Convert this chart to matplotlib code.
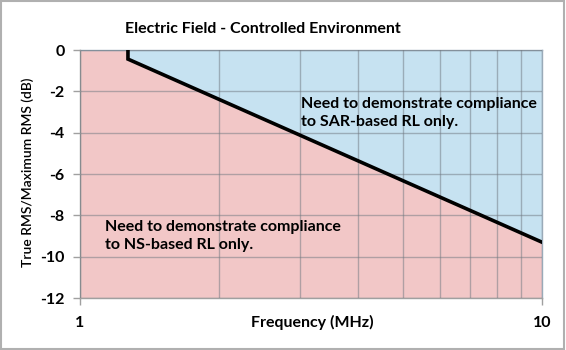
import matplotlib
matplotlib.use('Agg')
import matplotlib.pyplot as plt
from matplotlib.ticker import FixedLocator, NullFormatter

plt.rcParams['font.family'] = ['Lato', 'DejaVu Sans']
plt.rcParams['font.weight'] = 'bold'

# boundary line
freq = [1.27, 1.27, 10.0]
level = [0.0, -0.44, -9.3]

x_lim = [1, 10]
y_lim = [-12, 0]
y_ticks = [0, -2, -4, -6, -8, -10, -12]
x_ticks = [1, 10]
x_minor = [2, 3, 4, 5, 6, 7, 8, 9]

title = 'Electric Field - Controlled Environment'
x_label = 'Frequency (MHz)'
y_label = 'True RMS/Maximum RMS (dB)'
sar_text = 'Need to demonstrate compliance\nto SAR-based RL only.'
ns_text = 'Need to demonstrate compliance\nto NS-based RL only.'

pink = '#F2C7C7'
blue = '#C6E2F1'

fig = plt.figure(figsize=(5.66, 3.5), dpi=100)
ax = fig.add_axes([80 / 566, 52 / 350, 462 / 566, 248 / 350])

ax.set_xscale('log')
ax.set_xlim(x_lim)
ax.set_ylim(y_lim)

# blue above the line, pink below
fx = [x_lim[0]] + freq
fy = [0.0] + level
ax.fill_between(fx, fy, y_lim[0], color=pink, zorder=0, linewidth=0)
ax.fill_between(fx, fy, y_lim[1], color=blue, zorder=0, linewidth=0)
ax.plot(freq, level, color='black', linewidth=2.6, solid_joinstyle='miter', zorder=3)

ax.xaxis.set_major_locator(FixedLocator(x_ticks))
ax.xaxis.set_minor_locator(FixedLocator(x_minor))
ax.xaxis.set_minor_formatter(NullFormatter())
ax.set_xticklabels(['1', '10'])
ax.set_yticks(y_ticks)
ax.set_yticklabels([str(t) for t in y_ticks])

ax.grid(True, which='both', axis='x', color='#707880', alpha=0.5, linewidth=1)
ax.grid(True, which='major', axis='y', color='#707880', alpha=0.5, linewidth=1)
ax.set_axisbelow(False)

ax.tick_params(axis='x', which='major', length=5, width=1, color='#A0A0A0', pad=8,
               labelsize=11.5)
ax.tick_params(axis='x', which='minor', length=0)
ax.tick_params(axis='y', length=5, width=1, color='#A0A0A0', pad=6, labelsize=11.5)
for lbl in ax.get_xticklabels() + ax.get_yticklabels():
    lbl.set_fontweight('bold')

for side in ['top', 'right']:
    ax.spines[side].set_color('#9AAAB8')
    ax.spines[side].set_linewidth(1)
for side in ['left', 'bottom']:
    ax.spines[side].set_color('#A0A0A0')
    ax.spines[side].set_linewidth(1)

ax.set_xlabel(x_label, fontsize=11.5, fontweight='bold')
ax.xaxis.set_label_coords((312 - 80) / 462, -(322 - 298) / 248)
ax.xaxis.label.set_va('center')
ax.set_ylabel(y_label, fontsize=10, fontweight='semibold')
ax.yaxis.set_label_coords(-(80 - 28) / 462, (298 - 172) / 248)
ax.yaxis.label.set_va('center')
fig.text(263 / 566, 1 - 29 / 350, title, ha='center', va='center',
         fontsize=11.5, fontweight='bold')

ax.text(301 / 566, 1 - 113 / 350, sar_text, transform=fig.transFigure,
        ha='left', va='center', fontsize=11.5, fontweight='bold', linespacing=1.45)
ax.text(105 / 566, 1 - 236 / 350, ns_text, transform=fig.transFigure,
        ha='left', va='center', fontsize=11.5, fontweight='bold', linespacing=1.45)

# outer frame of the picture
fig.patches.append(plt.Rectangle((0.002, 0.003), 0.995, 0.994, transform=fig.transFigure,
                                 fill=False, edgecolor='#B0B0B0', linewidth=1.5))

fig.savefig('out.png', dpi=100)
